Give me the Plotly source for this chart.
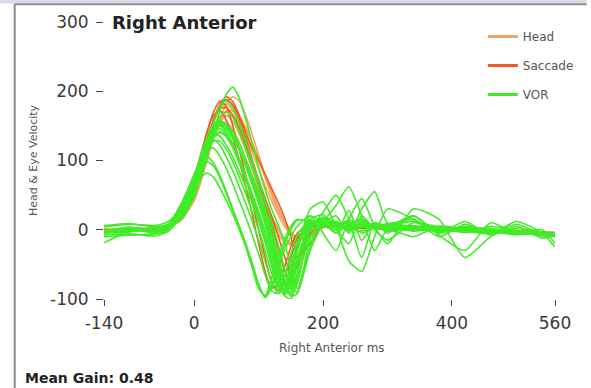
import plotly.graph_objects as go

# sample times (ms) shared by every trace
t_ms = [-140, -100, -60, -40, -20, 0, 10, 20, 30, 40, 50, 60, 70, 80, 90, 100, 110, 120,
        130, 140, 150, 160, 180, 200, 220, 240, 260, 280, 300, 340, 380, 420, 460, 500, 540, 560]

# head velocity traces
head = [
    [0, 1, 2, 5, 18, 52, 80, 110, 138, 160, 172, 172, 162, 145, 125, 100, 75, 50, 28, 10, -5, -14, -6, 4, 6, 5, 4, 3, 3, 2, 1, 0, -1, -2, -3, -4],
    [1, 0, 3, 6, 22, 58, 88, 120, 146, 162, 165, 156, 138, 115, 90, 64, 40, 18, 0, -14, -20, -15, -2, 5, 4, 5, 3, 2, 3, 1, 0, 0, -2, -3, -3, -5],
    [-1, 1, 2, 4, 14, 42, 68, 100, 132, 160, 182, 192, 186, 165, 138, 108, 80, 55, 32, 12, -6, -16, -8, 3, 5, 3, 4, 3, 2, 2, 0, -1, -1, -2, -4, -4],
    [0, 2, 1, 5, 20, 56, 86, 116, 140, 154, 155, 145, 126, 102, 78, 54, 32, 12, -6, -18, -22, -14, 0, 6, 5, 4, 3, 4, 2, 1, 1, -1, -2, -3, -4, -5],
    [1, 0, 2, 3, 15, 46, 74, 105, 134, 156, 170, 172, 164, 148, 126, 102, 78, 54, 32, 14, -2, -12, -8, 3, 5, 4, 3, 2, 2, 1, 0, -1, -2, -2, -3, -4],
    [0, 1, 3, 6, 24, 60, 92, 126, 156, 176, 182, 172, 150, 124, 96, 68, 42, 20, 2, -12, -18, -12, 0, 6, 4, 4, 3, 3, 2, 1, 0, 0, -1, -3, -3, -4],
    [-1, 2, 2, 5, 19, 50, 78, 108, 136, 155, 165, 163, 152, 134, 112, 88, 64, 42, 22, 5, -8, -16, -6, 4, 5, 3, 4, 2, 2, 1, 0, -1, -2, -3, -3, -5],
]

# eye traces flagged as saccades
saccade = [
    [-2, 1, 0, 4, 20, 58, 90, 125, 158, 182, 192, 185, 165, 140, 118, 100, 80, 60, 40, 18, -10, -40, -20, 6, 4, 5, 3, 2, 1, 2, 0, -1, -3, -2, -4, -6],
    [-1, 2, -2, 5, 24, 66, 102, 140, 170, 186, 178, 150, 115, 78, 40, 0, -40, -75, -88, -70, -40, -12, 6, 8, 3, 4, 2, 3, 1, 0, -1, -2, -2, -4, -5, -5],
    [0, -1, 1, 3, 18, 55, 88, 122, 155, 178, 188, 180, 160, 132, 102, 70, 38, 8, -25, -58, -75, -50, 2, 8, 5, 3, 4, 2, 2, 1, 0, -1, -2, -3, -5, -6],
    [-3, 0, 2, 6, 26, 70, 108, 142, 165, 172, 158, 132, 100, 62, 22, -20, -60, -84, -80, -55, -25, -5, 5, 6, 5, 2, 3, 4, 2, 0, -1, -1, -3, -3, -4, -7],
    [-1, 1, 0, 4, 21, 60, 95, 130, 158, 175, 176, 165, 146, 122, 98, 72, 46, 20, -8, -38, -62, -55, -5, 7, 4, 4, 2, 3, 1, 1, 0, -2, -2, -3, -5, -6],
]

# VOR eye velocity traces
vor = [
    [-3, 2, -4, 4, 25, 70, 98, 125, 142, 150, 146, 132, 115, 95, 72, 48, 22, -8, -45, -80, -85, -50, 8, 12, 6, 10, 4, 8, 2, 5, -2, 3, -4, -2, -6, -8],
    [-5, -1, 3, 6, 30, 78, 108, 135, 152, 158, 150, 135, 115, 92, 68, 42, 15, -20, -60, -92, -88, -45, 5, 15, 9, 2, 12, 5, 0, 3, 1, -3, -2, -5, -4, -7],
    [6, 9, 4, 8, 15, 50, 75, 105, 140, 172, 196, 206, 190, 160, 125, 90, 58, 30, 8, -18, -55, -85, -25, 18, 10, 5, 8, 2, 4, 6, 0, 2, -3, -5, -7, -9],
    [-4, 0, 2, 8, 35, 72, 90, 98, 92, 75, 52, 28, 5, -20, -48, -78, -98, -85, -55, -30, -10, 5, 20, 10, -5, 8, 15, 3, 6, -2, 4, 1, -5, -3, -8, -6],
    [-10, -8, -6, 0, 28, 60, 75, 82, 76, 60, 42, 22, 0, -25, -55, -85, -95, -70, -40, -15, 5, 15, 10, 5, 12, 0, 6, 9, 3, 2, -1, 4, -3, -6, -5, -10],
    [-3, 1, -2, 5, 22, 65, 95, 128, 148, 156, 150, 136, 116, 92, 66, 38, 8, -28, -65, -88, -70, -30, 30, 40, 5, -45, -60, -10, 30, 15, -10, 8, -5, 8, -6, -4],
    [-2, 4, -1, 3, 20, 58, 88, 118, 140, 152, 152, 142, 125, 102, 78, 52, 25, -5, -40, -75, -95, -78, 0, 25, 50, 15, -40, 10, 5, 20, -5, 12, -8, 5, -12, -8],
    [-4, -3, 2, 4, 26, 68, 100, 126, 138, 135, 122, 105, 84, 62, 38, 12, -18, -52, -82, -90, -62, -25, 12, 8, 4, 14, 6, 2, 9, 4, -3, 1, 2, -4, -6, -5],
    [-1, 2, -5, 1, 18, 55, 85, 120, 155, 180, 186, 176, 155, 128, 100, 72, 42, 12, -20, -55, -82, -90, -15, 10, 20, -5, 30, 55, 10, 15, -5, 5, 0, -3, -9, -7],
    [4, 8, 6, 12, 32, 75, 105, 124, 130, 122, 105, 85, 62, 38, 12, -15, -45, -75, -92, -85, -55, -20, 5, 18, 2, -20, 20, 0, -15, 10, 4, -2, -6, 2, -4, -9],
    [-5, 2, -2, 4, 24, 62, 92, 122, 140, 146, 138, 122, 102, 78, 52, 26, -2, -35, -70, -95, -100, -70, -10, 15, 8, 12, -5, 4, 8, 0, 3, -4, 5, -2, -8, -6],
    [-2, -1, 3, 7, 30, 70, 100, 116, 118, 106, 88, 66, 42, 18, -8, -35, -65, -88, -92, -68, -35, -8, 15, 22, -5, 28, -15, 10, -5, 20, -8, -30, 10, -5, 0, -20],
    [-4, 3, -3, 3, 16, 48, 80, 112, 138, 150, 150, 138, 118, 95, 70, 44, 16, -15, -50, -82, -92, -62, 0, 8, 5, 3, 10, 6, -2, 4, 2, -1, -4, -3, -6, -8],
    [-8, -6, -9, -2, 20, 60, 90, 114, 128, 128, 116, 98, 76, 52, 26, 0, -30, -62, -85, -78, -50, -18, 14, 6, 10, 4, -2, 7, 3, 1, 5, 0, -3, -7, -5, -6],
    [-6, 1, 2, 5, 27, 66, 95, 125, 148, 164, 170, 162, 142, 116, 88, 60, 30, 0, -35, -70, -96, -92, -30, 10, 35, 62, 20, -30, 0, -10, 5, 2, -2, -4, -3, -7],
    [-3, -2, 0, 8, 38, 80, 100, 106, 96, 78, 55, 30, 5, -22, -52, -80, -96, -80, -50, -22, 0, 14, 12, 5, 0, 6, 3, 10, 2, 5, -2, 0, -5, -4, -6, -5],
    [-4, 2, -1, 4, 22, 64, 95, 126, 146, 155, 150, 136, 116, 92, 66, 40, 12, -20, -55, -80, -72, -40, 5, 12, 3, 8, 15, 4, 6, 12, -3, 2, -1, -6, -4, -9],
    [-2, 1, -3, 3, 18, 52, 82, 110, 132, 140, 134, 118, 96, 72, 46, 18, -12, -45, -78, -94, -80, -45, 10, 5, 12, -2, 6, 3, 8, -1, 2, -2, -3, -5, -7, -6],
    [-3, 0, 2, 6, 28, 68, 98, 128, 144, 150, 142, 124, 100, 74, 46, 18, -12, -45, -78, -90, -66, -30, 20, -5, -30, 15, 45, 5, -20, 30, 15, -40, -10, 12, -5, -25],
    [-19, -2, 1, 5, 24, 62, 90, 118, 136, 142, 136, 120, 98, 74, 50, 24, -4, -36, -68, -86, -78, -48, 4, 10, 6, 3, 8, 5, 2, 4, 1, -2, -3, -4, -6, -7],
]

x_ticks = [-140, 0, 200, 400, 560]
x_labels = ["-140", "0", "200", "400", "560"]
y_ticks = [-100, 0, 100, 200, 300]
y_labels = ["-100", "0", "100", "200", "300"]

groups = [("Head", head, "#F2A45E"), ("Saccade", saccade, "#EE5A24"), ("VOR", vor, "#40EC26")]

font = "DejaVu Sans"

fig = go.Figure()
for name, traces, color in groups:
    for y in traces:
        fig.add_trace(go.Scatter(
            x=t_ms, y=y, mode="lines", name=name, legendgroup=name, showlegend=False,
            line=dict(color=color, width=1.6, shape="spline", smoothing=0.6),
        ))
# legend-only entries with a thicker stroke
for name, traces, color in groups:
    fig.add_trace(go.Scatter(x=[None], y=[None], mode="lines", name=name, legendgroup=name,
                             line=dict(color=color, width=3)))

fig.update_layout(
    width=591, height=388,
    margin=dict(l=104, r=30, t=22, b=89),
    paper_bgcolor="white", plot_bgcolor="white",
    font=dict(family=font, color="#333333"),
    legend=dict(x=0.84, y=1.0, xanchor="left", yanchor="top",
                font=dict(size=12, color="#555555"),
                traceorder="grouped", tracegroupgap=10, itemwidth=30,
                bgcolor="rgba(0,0,0,0)"),
)
fig.update_xaxes(range=[-140, 560], tickvals=x_ticks, ticktext=x_labels, showgrid=False,
                 zeroline=False, showline=False, ticks="outside", ticklen=6, tickcolor="#444444",
                 tickfont=dict(size=17, color="#3a3a3a"), ticklabelstandoff=3)
fig.update_yaxes(range=[-100, 300], tickvals=y_ticks, ticktext=y_labels, showgrid=False,
                 zeroline=False, showline=False, ticks="outside", ticklen=7, tickcolor="#444444",
                 tickfont=dict(size=17, color="#3a3a3a"), ticklabelstandoff=4)

# title sits next to the 300 tick
fig.add_annotation(text="<b>Right Anterior</b>", xref="paper", yref="paper", x=0.013, y=1.0,
                   xanchor="left", yanchor="middle", showarrow=False,
                   font=dict(size=18, color="#222222", family=font))
fig.add_annotation(text="Head & Eye Velocity", xref="paper", yref="paper", x=-0.175, y=0.5,
                   textangle=-90, showarrow=False, font=dict(size=11, color="#555555", family=font))
fig.add_annotation(text="Right Anterior ms", xref="paper", yref="paper", x=0.505, y=-0.21,
                   showarrow=False, font=dict(size=12, color="#555555", family=font))
fig.add_annotation(text="<b>Mean Gain: 0.48</b>", xref="paper", yref="paper", x=-0.18, y=-0.285,
                   xanchor="left", yanchor="middle", showarrow=False,
                   font=dict(size=14, color="#222222", family=font))

# window frame around the panel
fig.add_shape(type="rect", xref="paper", yref="paper", x0=-0.23, x1=1.07, y0=1.0668, y1=1.08,
              line_width=0, fillcolor="#D6DDE8")
fig.add_shape(type="line", xref="paper", yref="paper", x0=-0.198, x1=1.07, y0=1.064, y1=1.064,
              line=dict(color="#8C8C8C", width=2))
fig.add_shape(type="line", xref="paper", yref="paper", x0=-0.198, x1=-0.198, y0=-0.33, y1=1.064,
              line=dict(color="#8C8C8C", width=2))

# drop the page's default body margin so the figure sits at the window corner
fig.write_html("out.html", config={"displayModeBar": False},
               post_script="document.body.style.margin='0';")
